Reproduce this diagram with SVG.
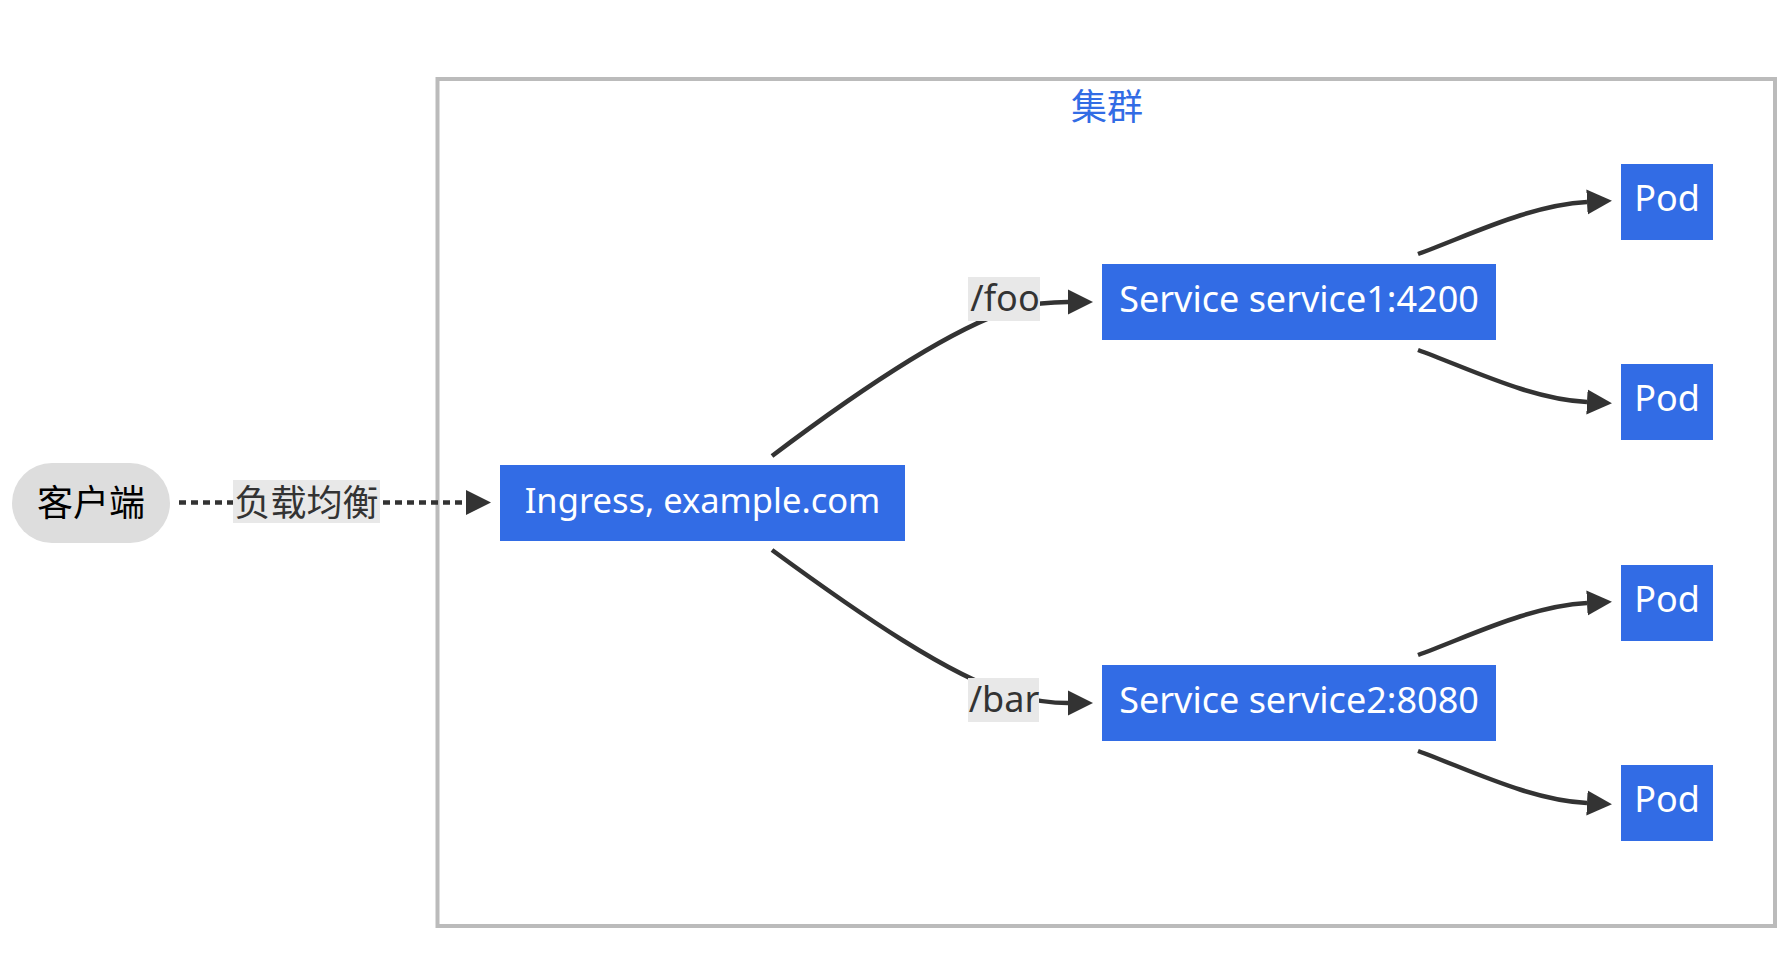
<svg xmlns="http://www.w3.org/2000/svg" width="1789" height="962" viewBox="0 0 1789 962">
  <style>
    .k8s { fill: #326ce5; }
    .ktext { fill: #ffffff; font-family: "Noto Sans", "Noto Sans CJK SC", sans-serif; font-size: 36px; text-anchor: middle; }
    .edge { fill: none; stroke: #333333; stroke-width: 4.5; }
    .dotted { stroke-dasharray: 7 5; }
    .lblbg { fill: #e8e8e8; }
    .lbl { fill: #333333; font-family: "Noto Sans", "Noto Sans CJK SC", sans-serif; font-size: 36px; text-anchor: middle; }
  </style>
  <defs>
    <marker id="arrow" viewBox="0 0 10 10" refX="0" refY="5" markerWidth="25" markerHeight="28" markerUnits="userSpaceOnUse" orient="auto">
      <path d="M0,0 L10,5 L0,10 z" fill="#333333"/>
    </marker>
  </defs>
  <rect width="1789" height="962" fill="#ffffff"/>

  <g id="cluster">
    <rect x="437.5" y="79" width="1337.5" height="847" fill="#ffffff" stroke="#bbbbbb" stroke-width="4"/>
    <text x="1107" y="120" font-family="'Noto Sans CJK SC', sans-serif" font-size="36" fill="#326ce5" text-anchor="middle">集群</text>
  </g>

  <g id="connectors">
    <path class="edge dotted" d="M179,502.5 L466,502.5" marker-end="url(#arrow)"/>
    <path class="edge" d="M772,456 C862,388 950,330 1010,310 C1030,304 1050,302 1068,302" marker-end="url(#arrow)"/>
    <path class="edge" d="M772,550 C862,616 950,676 1010,694 C1030,700 1050,703 1068,703" marker-end="url(#arrow)"/>
    <path class="edge" d="M1418,254 C1470,235 1530,205 1587,202" marker-end="url(#arrow)"/>
    <path class="edge" d="M1418,350 C1470,369 1530,399 1587,402" marker-end="url(#arrow)"/>
    <path class="edge" d="M1418,655 C1470,636 1530,606 1587,603" marker-end="url(#arrow)"/>
    <path class="edge" d="M1418,751 C1470,770 1530,800 1587,803" marker-end="url(#arrow)"/>
    <g id="label-lb">
      <rect class="lblbg" x="233" y="480" width="147" height="43"/>
      <text class="lbl" x="306.5" y="516">负载均衡</text>
    </g>
    <g id="label-foo">
      <rect class="lblbg" x="968" y="277" width="72" height="44"/>
      <text class="lbl" x="1005" y="311">/foo</text>
    </g>
    <g id="label-bar">
      <rect class="lblbg" x="968" y="678" width="71" height="44"/>
      <text class="lbl" x="1004" y="712">/bar</text>
    </g>
  </g>

  <g id="client">
    <rect x="12" y="463" width="158" height="80" rx="40" ry="40" fill="#dddddd"/>
    <text x="91" y="516" font-family="'Noto Sans CJK SC', sans-serif" font-size="36" fill="#000000" text-anchor="middle">客户端</text>
  </g>
  <g id="ingress">
    <rect class="k8s" x="500" y="465" width="405" height="76"/>
    <text class="ktext" x="702.5" y="513" style="font-size:34.5px">Ingress, example.com</text>
  </g>
  <g id="service1">
    <rect class="k8s" x="1102" y="264" width="394" height="76"/>
    <text class="ktext" x="1299" y="312">Service service1:4200</text>
  </g>
  <g id="service2">
    <rect class="k8s" x="1102" y="665" width="394" height="76"/>
    <text class="ktext" x="1299" y="713">Service service2:8080</text>
  </g>
  <g id="pod1">
    <rect class="k8s" x="1621" y="164" width="92" height="76"/>
    <text class="ktext" x="1667" y="211">Pod</text>
  </g>
  <g id="pod2">
    <rect class="k8s" x="1621" y="364" width="92" height="76"/>
    <text class="ktext" x="1667" y="411">Pod</text>
  </g>
  <g id="pod3">
    <rect class="k8s" x="1621" y="565" width="92" height="76"/>
    <text class="ktext" x="1667" y="612">Pod</text>
  </g>
  <g id="pod4">
    <rect class="k8s" x="1621" y="765" width="92" height="76"/>
    <text class="ktext" x="1667" y="812">Pod</text>
  </g>
</svg>
